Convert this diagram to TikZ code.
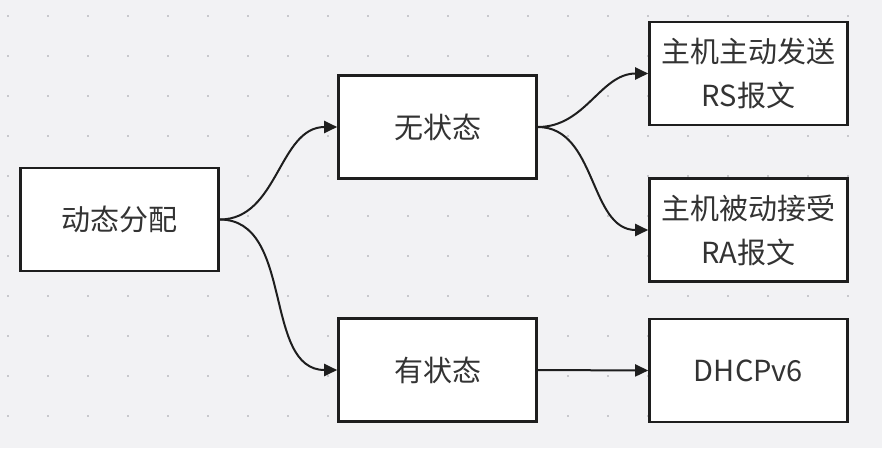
\documentclass[tikz,border=0pt]{standalone}
\usepackage{fontspec}
\setmainfont{Noto Sans CJK SC}
\usetikzlibrary{arrows.meta}
\definecolor{bgcol}{HTML}{F2F2F4}
\definecolor{dotcol}{HTML}{C8C8CC}
\definecolor{linecol}{HTML}{1E1E1E}
\definecolor{txtcol}{HTML}{333333}
\begin{document}
\begin{tikzpicture}[x=1pt, y=-1pt]
    \tikzstyle{box}=[draw=linecol, fill=white, line width=2.6pt, minimum width=198pt, minimum height=103pt, inner sep=0pt, align=center, text=txtcol, font=\fontsize{29}{44}\selectfont];
    \tikzstyle{link}=[draw=linecol, line width=2pt, -{Triangle[length=13pt,width=12pt]}];
    \useasboundingbox (0,0) rectangle (882,448);
    \fill[bgcol] (0,0) rectangle (882,448);
    \foreach \i in {0,...,21} {
        \foreach \j in {0,...,10} {
            \fill[dotcol] ({8+40*\i-1.2},{16+40*\j-1.2}) rectangle ++(2.4,2.4);
        }
    }
    \node[box] (alloc) at (119.5,219.5) {动态分配};
    \node[box] (sless) at (437.5,127) {无状态};
    \node[box] (sfull) at (437.5,370) {有状态};
    \node[box] (rs) at (748.5,73.5) {主机主动发送\\RS报文};
    \node[box] (ra) at (748.5,230) {主机被动接受\\RA报文};
    \node[box] (dhcp) at (748.5,370.5) {DHCPv6};
    \draw[link] (alloc.east) to[out=0, in=180] (sless.west);
    \draw[link] (alloc.east) to[out=0, in=180] (sfull.west);
    \draw[link] (sless.east) to[out=0, in=180] (rs.west);
    \draw[link] (sless.east) to[out=0, in=180] (ra.west);
    \draw[link] (sfull.east) -- (dhcp.west);
\end{tikzpicture}
\end{document}
